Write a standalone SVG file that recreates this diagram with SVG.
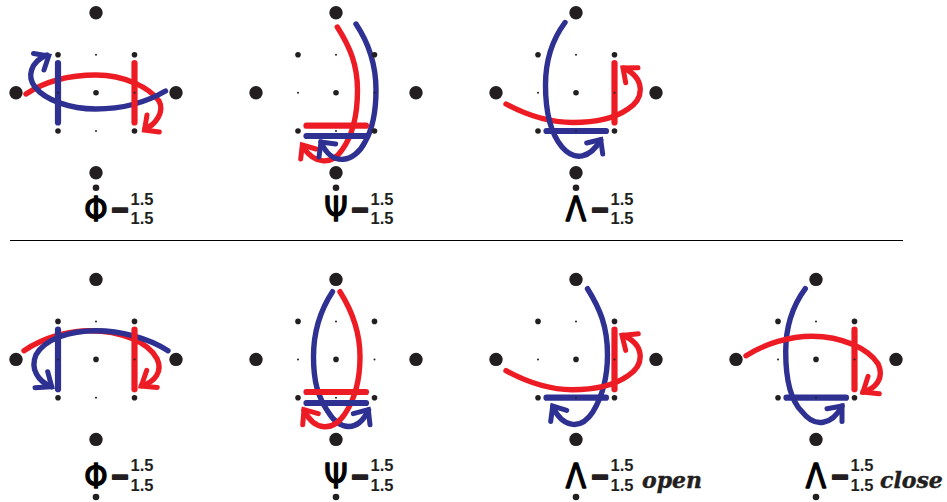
<svg xmlns="http://www.w3.org/2000/svg" xmlns:xlink="http://www.w3.org/1999/xlink" width="947" height="502" viewBox="0 0 947 502">
<style>
.r,.b{fill:none;stroke-linecap:round;stroke-linejoin:miter}
.c{stroke-width:5.4}
.s{stroke-width:6.2}
.a{stroke-width:5}
.r{stroke:#ed1c24}
.b{stroke:#2e3192}
.d{fill:#231f20}
.g{font-family:"DejaVu Sans",sans-serif;font-stretch:condensed;font-size:33px;fill:#000;stroke:#000;stroke-width:1.3;stroke-linejoin:round;text-anchor:middle}
.m{font-family:"Open Sans",sans-serif;font-weight:700;font-size:34px;fill:#231f20;stroke:#231f20;stroke-width:2;stroke-linejoin:round;text-anchor:middle}
.n{font-family:"Liberation Sans",sans-serif;font-weight:700;font-size:16.5px;fill:#231f20}
.w{font-family:"DejaVu Serif",serif;font-weight:700;font-style:italic;font-size:22px;fill:#231f20;stroke:#231f20;stroke-width:.4}
</style>
<defs>
<g id="grid">
<circle class="d" cx="16" cy="92.7" r="6.7"/><circle class="d" cx="176" cy="92.7" r="6.7"/><circle class="d" cx="96" cy="12.7" r="6.7"/><circle class="d" cx="96" cy="172.7" r="6.7"/>
<circle class="d" cx="58" cy="54.7" r="2.8"/><circle class="d" cx="134.5" cy="54.7" r="2.8"/><circle class="d" cx="58" cy="131" r="2.8"/><circle class="d" cx="134.5" cy="131" r="2.8"/><circle class="d" cx="96" cy="92.7" r="2.8"/>
<circle class="d" cx="96" cy="54.7" r="1"/><circle class="d" cx="96" cy="131" r="1"/><circle class="d" cx="58" cy="92.7" r="1"/><circle class="d" cx="134.5" cy="92.7" r="1"/>
</g>
</defs>
<line x1="10" y1="240.5" x2="903" y2="240.5" stroke="#000" stroke-width="1"/>

<g id="phi-top">
<g id="phi-top-connectors">
<path class="r c" d="M26,94 C50,78 75,75 96,75 C125,75 150,88 159,101 C165,112 155,125 145,129"/>
<path class="r a" d="M147,115 L144.5,130 L159.3,132"/>
<path class="b c" d="M165.5,91 C145,103 120,109 96,109 C70,109 45,100 35,87 C27,77 30,62 47,55"/>
<path class="b a" d="M33.5,53.5 L48.7,56 L44,70"/>
<path class="b s" d="M58,63 V122.5"/>
<path class="r s" d="M134.5,63 V122.5"/>
</g>
<use xlink:href="#grid" href="#grid"/>
<circle class="d" cx="96" cy="187.7" r="3.3"/>
<text class="g" x="96" y="221">Φ</text><text class="m" x="120" y="219">–</text>
<text class="n" x="130.5" y="204.5">1.5</text><text class="n" x="130.5" y="224">1.5</text>
</g>

<g id="psi-top" transform="translate(240,0)">
<g id="psi-top-connectors">
<path class="r c" d="M97.3,27 C110,47 117.5,65 117.5,90 C117.5,115 113,135 102,150 C92,165 75,165 63,147"/>
<path class="r a" d="M60.7,159 L62.3,145 L76,149"/>
<path class="b c" d="M116,24 C128,42 136,62 136,90 C136,115 132,130 125,142 C115,162 92,168 81,142"/>
<path class="b a" d="M79,157 L81,142 L95.7,144"/>
<path class="r s" d="M66.5,125.7 H126"/>
<path class="b s" d="M66.5,136 H126"/>
</g>
<use xlink:href="#grid" href="#grid"/>
<circle class="d" cx="96" cy="187.7" r="3.3"/>
<text class="g" x="96" y="221">Ψ</text><text class="m" x="120" y="219">–</text>
<text class="n" x="130.5" y="204.5">1.5</text><text class="n" x="130.5" y="224">1.5</text>
</g>

<g id="lambda-top" transform="translate(480,0)">
<g id="lambda-top-connectors">
<path class="r s" d="M134.5,63 V122.5"/>
<path class="b s" d="M66.5,131 H126"/>
<path class="r c" d="M26,104 C50,117 70,122.5 93,122.5 C115,122.5 135,118 148,109 C165,98 165,78 143.5,68"/>
<path class="r a" d="M158,67.7 L143,68 L145.7,82.7"/>
<path class="b c" d="M85,22.5 C72,40 65.5,60 65.5,85 C65.5,115 72,135 82,147 C95,162 110,158 120.7,140"/>
<path class="b a" d="M106.7,143 L120.7,139.5 L122.7,154"/>
</g>
<use xlink:href="#grid" href="#grid"/>
<circle class="d" cx="96" cy="187.7" r="3.3"/>
<text class="g" x="96" y="221">Λ</text><text class="m" x="120" y="219">–</text>
<text class="n" x="130.5" y="204.5">1.5</text><text class="n" x="130.5" y="224">1.5</text>
</g>

<g id="phi-bottom" transform="translate(0,266.7)">
<g id="phi-bottom-connectors">
<path class="r c" d="M24,84 C45,70 70,64 90,64 C120,64 148,75 157,92 C163,105 155,115 141.5,119"/>
<path class="r a" d="M146.7,103.7 L141.3,119.3 L157.3,120.7"/>
<path class="b c" d="M168,84 C148,71 120,64 96,64 C70,64 45,72 36,88 C30,102 38,115 51.5,120"/>
<path class="b a" d="M35,121 L51.7,120 L47.7,105"/>
<path class="b s" d="M58,63 V122.5"/>
<path class="r s" d="M134.5,63 V122.5"/>
</g>
<use xlink:href="#grid" href="#grid"/>
<circle class="d" cx="96" cy="230.3" r="3.3"/>
<text class="g" x="96" y="221">Φ</text><text class="m" x="120" y="219">–</text>
<text class="n" x="130.5" y="204.5">1.5</text><text class="n" x="130.5" y="224">1.5</text>
</g>

<g id="psi-bottom" transform="translate(240,266.7)">
<g id="psi-bottom-connectors">
<path class="b c" d="M92.5,25 C80,44 73.5,65 73.5,90 C73.5,115 78,130 88,145 C100,165 118,165 128.5,143.5"/>
<path class="b a" d="M113.3,147 L128.3,143 L130,158"/>
<path class="r c" d="M100,25 C112,44 120,65 120,90 C120,115 115,132 105,147 C93,165 75,165 64,143.5"/>
<path class="r a" d="M62.7,158 L64,143 L78.3,147"/>
<path class="r s" d="M66.5,125.3 H126"/>
<path class="b s" d="M66.5,136.3 H126"/>
</g>
<use xlink:href="#grid" href="#grid"/>
<circle class="d" cx="96" cy="230.3" r="3.3"/>
<text class="g" x="96" y="221">Ψ</text><text class="m" x="120" y="219">–</text>
<text class="n" x="130.5" y="204.5">1.5</text><text class="n" x="130.5" y="224">1.5</text>
</g>

<g id="lambda-open" transform="translate(480,266.7)">
<g id="lambda-open-connectors">
<path class="b s" d="M66.5,131 H126"/>
<path class="b c" d="M107.5,22 C120,42 127.5,60 127.5,88 C127.5,112 122,130 113,145 C100,165 82,160 72.7,140"/>
<path class="b a" d="M70.7,154.7 L72.7,139.3 L86.7,143.7"/>
<path class="r c" d="M26,104 C50,117 70,123 92,123 C115,123 135,118 148,109 C165,98 165,78 143,68.5"/>
<path class="r a" d="M158.3,67 L142,68.7 L145.7,83.7"/>
<path class="r s" d="M134.5,63 V122.5"/>
</g>
<use xlink:href="#grid" href="#grid"/>
<circle class="d" cx="96" cy="230.3" r="3.3"/>
<text class="g" x="96" y="221">Λ</text><text class="m" x="120" y="219">–</text>
<text class="n" x="130.5" y="204.5">1.5</text><text class="n" x="130.5" y="224">1.5</text>
<text class="w" x="162" y="221.5">open</text>
</g>

<g id="lambda-close" transform="translate(720,266.7)">
<g id="lambda-close-connectors">
<path class="b s" d="M66.5,131 H126"/>
<path class="b c" d="M85.3,22 C72,40 65.7,60 65.7,85 C65.7,115 72,135 82,145 C95,162 112,158 122,139.5"/>
<path class="b a" d="M107,142 L122,139.3 L122,154.7"/>
<path class="r s" d="M134.5,63 V122.5"/>
<path class="r c" d="M26,89 C45,77 70,69.5 92,69.5 C122,69.5 148,82 158,97 C165,112 155,122 143,125.5"/>
<path class="r a" d="M148,109.7 L143,125.3 L159.3,127"/>
</g>
<use xlink:href="#grid" href="#grid"/>
<circle class="d" cx="96" cy="230.3" r="3.3"/>
<text class="g" x="96" y="221">Λ</text><text class="m" x="120" y="219">–</text>
<text class="n" x="130.5" y="204.5">1.5</text><text class="n" x="130.5" y="224">1.5</text>
<text class="w" x="160" y="221.5">close</text>
</g>
</svg>
